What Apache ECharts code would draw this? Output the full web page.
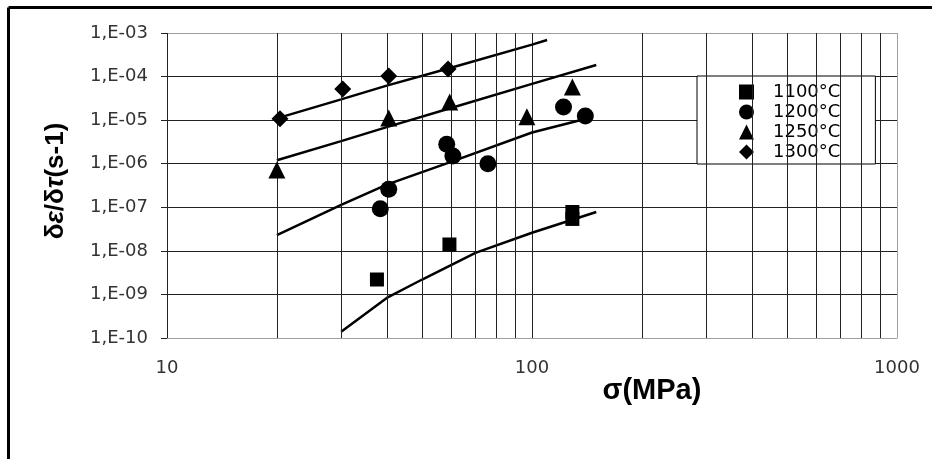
<!DOCTYPE html>
<html><head><meta charset="utf-8">
<script src="https://cdn.jsdelivr.net/npm/echarts@6/dist/echarts.min.js"></script>
<style>html,body{margin:0;padding:0;background:#fff}#c{width:932px;height:459px}</style>
</head><body><div id="c"></div>
<script>
// ---- data ----
const seriesNames = ['1100°C', '1200°C', '1250°C', '1300°C'];

const x1100 = [37.6, 59.4, 129, 129];
const y1100 = [2.2e-9, 1.4e-8, 7.8e-8, 5.4e-8];
const x1200 = [38.4, 40.5, 58.4, 60.7, 75.7, 122, 140];
const y1200 = [9.2e-8, 2.6e-7, 2.8e-6, 1.5e-6, 1.0e-6, 2.0e-5, 1.25e-5];
const x1250 = [20, 40.5, 59.5, 96.8, 129];
const y1250 = [7.2e-7, 1.12e-5, 2.6e-5, 1.2e-5, 5.8e-5];
const x1300 = [20.4, 30.3, 40.5, 58.9];
const y1300 = [1.07e-5, 5.2e-5, 1.03e-4, 1.5e-4];

// model (fitted) curves
const fitX1100 = [30, 40, 50, 70, 100, 150];
const fitY1100 = [1.4e-10, 8.3e-10, 2.2e-9, 9e-9, 2.6e-8, 7.8e-8];
const fitX1200 = [20, 30, 40, 60, 100, 145];
const fitY1200 = [2.3e-8, 1.14e-7, 3.3e-7, 1.1e-6, 5.2e-6, 1.15e-5];
const fitX1250 = [20, 30, 40, 60, 100, 150];
const fitY1250 = [1.2e-6, 3.3e-6, 6.9e-6, 1.9e-5, 6.8e-5, 1.85e-4];
const fitX1300 = [20, 30, 40, 60, 100, 110];
const fitY1300 = [1.1e-5, 3.0e-5, 6.2e-5, 1.6e-4, 5.4e-4, 6.9e-4];

const xMinorGrid = [20, 30, 40, 50, 60, 70, 80, 90, 200, 300, 400, 500, 600, 700, 800, 900];
const xRange = [10, 1000];
const yRange = [1e-10, 1e-3];

// ---- build ----
const zip = (xs, ys) => xs.map((x, i) => [x, ys[i]]);
const FONT = '"Liberation Sans", Arial, sans-serif';
const TICKFONT = '"DejaVu Sans", sans-serif';
const chart = echarts.init(document.getElementById('c'), null, {renderer: 'canvas'});

const symbols = ['rect', 'circle', 'triangle', 'diamond'];
const symSizes = [14, 17, 17, 17];
const pts = [zip(x1100, y1100), zip(x1200, y1200), zip(x1250, y1250), zip(x1300, y1300)];
const fits = [zip(fitX1100, fitY1100), zip(fitX1200, fitY1200), zip(fitX1250, fitY1250), zip(fitX1300, fitY1300)];

const series = [];
fits.forEach((d, i) => {
  const s = {
    name: 'fit' + i, type: 'line', data: d, showSymbol: false, symbol: 'none',
    lineStyle: {color: '#000', width: 2.5}, itemStyle: {color: '#000'},
    silent: true, z: 3
  };
  if (i === 0) {
    s.markLine = {
      silent: true, symbol: ['none', 'none'], label: {show: false},
      lineStyle: {color: '#222', width: 1, type: 'solid'},
      emphasis: {disabled: true},
      data: xMinorGrid.map(v => ({xAxis: v}))
    };
  }
  series.push(s);
});
pts.forEach((d, i) => {
  series.push({
    name: seriesNames[i], type: 'scatter', data: d,
    symbol: symbols[i], symbolSize: symSizes[i],
    itemStyle: {color: '#000', opacity: 1}, z: 5
  });
});

const yLabel = v => {
  const e = Math.round(Math.log10(v));
  return '1,E-' + String(-e).padStart(2, '0');
};
const xLabel = v => String(Math.round(v));

chart.setOption({
  animation: false,
  backgroundColor: '#fff',
  textStyle: {fontFamily: FONT},
  grid: {left: 167, right: 35, top: 33, bottom: 121, containLabel: false},
  xAxis: {
    type: 'log', logBase: 10, min: xRange[0], max: xRange[1],
    axisLine: {show: true, lineStyle: {color: '#a0a0a0', width: 1}},
    axisTick: {show: false},
    axisLabel: {fontFamily: TICKFONT, fontSize: 18, color: '#333', margin: 21, formatter: xLabel},
    splitLine: {show: true, lineStyle: {color: ['#222', '#222', '#a0a0a0'], width: 1}},
    minorTick: {show: false}, minorSplitLine: {show: false}
  },
  yAxis: {
    type: 'log', logBase: 10, min: yRange[0], max: yRange[1], splitNumber: 7,
    axisLine: {show: false},
    axisTick: {show: true, length: 6, lineStyle: {color: '#222'}},
    axisLabel: {fontFamily: TICKFONT, fontSize: 18, color: '#333', margin: 19, formatter: yLabel},
    splitLine: {show: true, lineStyle: {color: ['#a0a0a0', '#222', '#222', '#222', '#222', '#222', '#222', '#222'], width: 1}}
  },
  legend: {
    data: seriesNames.map(n => ({name: n})),
    orient: 'vertical', left: 697, top: 76,
    backgroundColor: '#fff', borderColor: '#000', borderWidth: 1, borderRadius: 0,
    padding: [7, 35, 3, 42],
    itemWidth: 15, itemHeight: 15, itemGap: 2,
    textStyle: {fontFamily: TICKFONT, fontSize: 18, color: '#000', padding: [0, 0, 0, 14]},
    selectedMode: false
  },
  graphic: [
    {type: 'line', silent: true, shape: {x1: 8.5, y1: 7.5, x2: 932, y2: 7.5}, style: {stroke: '#000', lineWidth: 3}},
    {type: 'line', silent: true, shape: {x1: 8.5, y1: 7.5, x2: 8.5, y2: 459}, style: {stroke: '#000', lineWidth: 3}},
    {type: 'text', silent: true, x: 652, y: 391,
      style: {text: 'σ(MPa)', fontFamily: FONT, fontSize: 29, fontWeight: 'bold', fill: '#000', align: 'center', verticalAlign: 'middle'}},
    {type: 'text', silent: true, x: 56, y: 181, rotation: Math.PI / 2,
      style: {
        text: '{n|δ}{i|ε}{n|/δ}{i|τ}{n|(s-1)}',
        align: 'center', verticalAlign: 'middle', fill: '#000',
        fontFamily: FONT, fontSize: 26, fontWeight: 'bold',
        rich: {
          n: {fontFamily: FONT, fontSize: 26, fontWeight: 'bold', fill: '#000'},
          i: {fontFamily: FONT, fontSize: 26, fontWeight: 'bold', fontStyle: 'italic', fill: '#000'}
        }
      }}
  ],
  series: series
});
</script>
</body></html>
